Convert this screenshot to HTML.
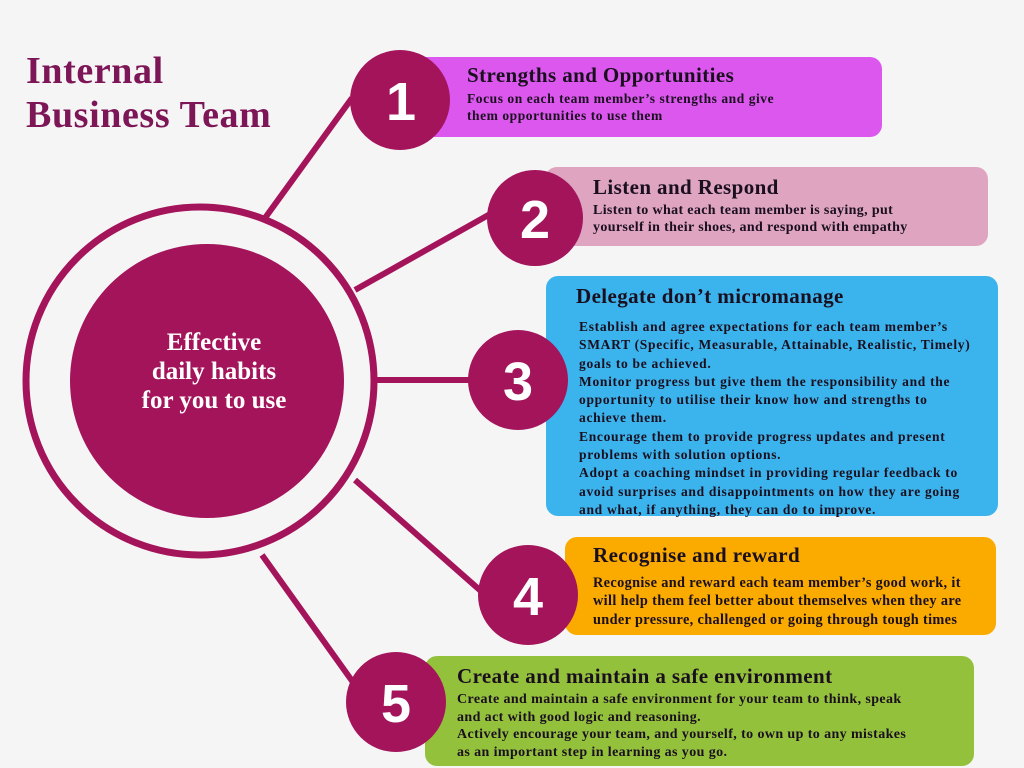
<!DOCTYPE html>
<html><head><meta charset="utf-8"><style>
body{margin:0;width:1024px;height:768px;background:#f6f5f6;position:relative;overflow:hidden;font-family:"Liberation Serif",serif;font-weight:bold;}
.box{position:absolute;border-radius:12px;}
.t{position:absolute;color:#1a0f1f;white-space:nowrap;}
.h{font-size:21px;letter-spacing:0.4px;}
.b{font-size:13.5px;line-height:18.3px;}
</style></head><body>
<svg width="1024" height="768" style="position:absolute;left:0;top:0">
<g stroke="#a3145a" stroke-width="6" fill="none">
<line x1="265" y1="218" x2="352" y2="98"/>
<line x1="355" y1="290" x2="492" y2="213"/>
<line x1="376" y1="380" x2="472" y2="380"/>
<line x1="355" y1="480" x2="482" y2="592"/>
<line x1="262" y1="555" x2="355" y2="685"/>
</g>
</svg>
<div class="box" style="left:410px;top:57px;width:472px;height:80px;background:#dc57ee"></div>
<div class="box" style="left:545px;top:167px;width:443px;height:79px;background:#dea4c0"></div>
<div class="box" style="left:546px;top:276px;width:452px;height:240px;background:#3bb3ec"></div>
<div class="box" style="left:565px;top:537px;width:431px;height:98px;background:#fbab00"></div>
<div class="box" style="left:425px;top:656px;width:549px;height:110px;background:#94c13c"></div>
<svg width="1024" height="768" style="position:absolute;left:0;top:0">
<circle cx="200" cy="381" r="174" fill="none" stroke="#a3145a" stroke-width="7"/>
<circle cx="207" cy="381" r="137" fill="#a3145a"/>
<g fill="#a3145a">
<circle cx="400" cy="100" r="50"/>
<circle cx="535" cy="218" r="48"/>
<circle cx="518" cy="380" r="50"/>
<circle cx="528" cy="595" r="50"/>
<circle cx="396" cy="702" r="50"/>
</g>
<g fill="#fff" font-family="Liberation Sans, sans-serif" font-weight="bold" font-size="54" text-anchor="middle">
<text x="401" y="120">1</text>
<text x="535" y="238">2</text>
<text x="518" y="400">3</text>
<text x="528" y="615">4</text>
<text x="396" y="722">5</text>
</g>
<g fill="#fff" font-family="Liberation Serif, serif" font-weight="bold" font-size="25" text-anchor="middle">
<text x="214" y="350">Effective</text>
<text x="214" y="379">daily habits</text>
<text x="214" y="408">for you to use</text>
</g>
</svg>
<div class="t" style="left:26px;top:49px;font-size:38px;letter-spacing:0.6px;line-height:44px;color:#7d1656">Internal<br>Business Team</div>
<div class="t h" style="left:467px;top:63px">Strengths and Opportunities</div>
<div class="t b" style="left:467px;top:90px;font-size:13.5px;line-height:17px;letter-spacing:0.55px">Focus on each team member’s strengths and give<br>them opportunities to use them</div>
<div class="t h" style="left:593px;top:175px">Listen and Respond</div>
<div class="t b" style="left:593px;top:202px;font-size:14px;line-height:17px;letter-spacing:0.35px">Listen to what each team member is saying, put<br>yourself in their shoes, and respond with empathy</div>
<div class="t h" style="left:576px;top:284px">Delegate don’t micromanage</div>
<div class="t b" style="left:579px;top:318px;letter-spacing:0.7px">Establish and agree expectations for each team member’s<br>SMART (Specific, Measurable, Attainable, Realistic, Timely)<br>goals to be achieved.<br>Monitor progress but give them the responsibility and the<br>opportunity to utilise their know how and strengths to<br>achieve them.<br>Encourage them to provide progress updates and present<br>problems with solution options.<br>Adopt a coaching mindset in providing regular feedback to<br>avoid surprises and disappointments on how they are going<br>and what, if anything, they can do to improve.</div>
<div class="t h" style="left:593px;top:543px">Recognise and reward</div>
<div class="t b" style="left:593px;top:574px;font-size:14.3px;letter-spacing:0.35px">Recognise and reward each team member’s good work, it<br>will help them feel better about themselves when they are<br>under pressure, challenged or going through tough times</div>
<div class="t h" style="left:457px;top:664px">Create and maintain a safe environment</div>
<div class="t b" style="left:457px;top:691px;font-size:14px;line-height:17.5px;letter-spacing:0.4px">Create and maintain a safe environment for your team to think, speak<br>and act with good logic and reasoning.<br>Actively encourage your team, and yourself, to own up to any mistakes<br>as an important step in learning as you go.</div>
</body></html>
